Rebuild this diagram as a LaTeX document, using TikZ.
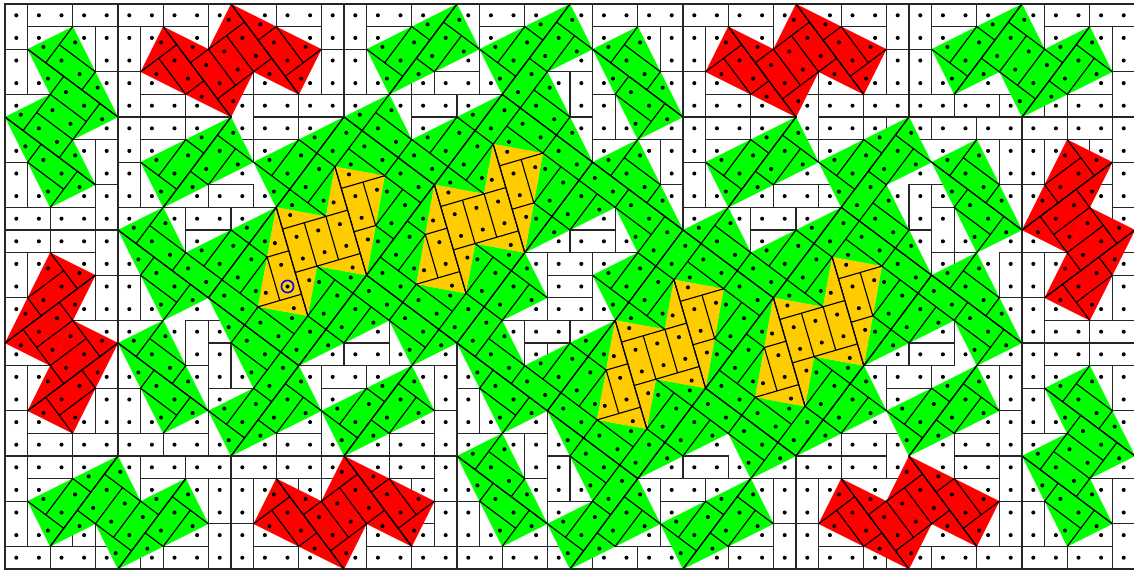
\documentclass[tikz,border=0pt]{standalone}
\usetikzlibrary{calc}
\definecolor{tilegreen}{RGB}{0,255,0}
\definecolor{tilered}{RGB}{255,0,0}
\definecolor{tileyellow}{RGB}{255,204,0}
\pgfdeclarelayer{tilefill}
\pgfdeclarelayer{tileline}
\pgfsetlayers{main,tilefill,tileline}
\tikzset{
  domline/.style={draw=black!85, line width=0.055cm},
  cutline/.style={draw=black, line width=0.05cm},
  spot/.style={fill=black}
}
\newcommand{\halftile}[4]{%
  \coordinate (a) at #2;
  \coordinate (b) at #3;
  \coordinate (c) at #4;
  \coordinate (f) at ($(a)!0.2!(c)$);
  \coordinate (g) at ($(a)!0.6!(c)$);
  \coordinate (m) at ($(b)!0.5!(f)$);
  \coordinate (n) at ($(b)!0.5!(c)$);
  \begin{pgfonlayer}{tilefill}
    \filldraw[fill=#1, draw=#1, line width=0.1pt] (a) -- (b) -- (c) -- cycle;
  \end{pgfonlayer}
  \begin{pgfonlayer}{tileline}
    \draw[cutline] (a) -- (c) (b) -- (f) (m) -- (n) -- (g);
    \fill[spot] ($(a)!0.5!(f)+0.25*(b)-0.25*(f)$) circle (0.09);
    \fill[spot] ($(m)!0.5!(b)+0.25*(n)-0.25*(m)$) circle (0.09);
    \fill[spot] ($(g)!0.5!(n)+0.25*(c)-0.25*(g)$) circle (0.09);
    \fill[spot] ($0.375*(m)+0.375*(f)+0.125*(n)+0.125*(g)$) circle (0.09);
    \fill[spot] ($0.125*(m)+0.125*(f)+0.375*(n)+0.375*(g)$) circle (0.09);
  \end{pgfonlayer}
}
\newcommand{\domtile}[5]{\halftile{#1}{#2}{#3}{#4}\halftile{#1}{#4}{#5}{#2}}
\newcommand{\talltile}[3]{\domtile{#1}{(#2,#3)}{(#2+2,#3-1)}{(#2+4,#3+3)}{(#2+2,#3+4)}}
\newcommand{\widetile}[3]{\domtile{#1}{(#2+1,#3+2)}{(#2,#3)}{(#2+4,#3-2)}{(#2+5,#3)}}
\begin{document}
\begin{tikzpicture}[x=1cm,y=-1cm]
  \useasboundingbox (-0.2212,-0.177) rectangle (49.956,25.044);
  % dominoes lying flat
  \foreach \i/\j in {1/0,3/0,5/0,7/0,10/0,12/0,16/0,18/0,21/0,23/0,26/0,28/0,30/0,32/0,35/0,37/0,41/0,43/0,46/0,48/0,
    1/1,7/1,10/1,12/1,16/1,21/1,23/1,26/1,32/1,35/1,37/1,41/1,46/1,
    7/2,24/2,
    2/3,6/3,8/3,11/3,19/3,31/3,36/3,
    0/4,6/4,8/4,11/4,13/4,15/4,18/4,20/4,31/4,33/4,36/4,38/4,40/4,42/4,44/4,47/4,
    3/5,6/5,8/5,11/5,18/5,28/5,31/5,33/5,36/5,39/5,41/5,43/5,45/5,47/5,
    11/6,36/6,
    2/8,7/8,9/8,32/8,34/8,36/8,41/8,
    0/9,2/9,5/9,8/9,10/9,30/9,33/9,35/9,
    0/10,2/10,8/10,23/10,25/10,33/10,45/10,
    2/11,24/11,26/11,
    24/12,
    24/13,46/13,
    3/14,5/14,9/14,23/14,25/14,40/14,46/14,48/14,
    0/15,13/15,15/15,18/15,38/15,40/15,43/15,46/15,48/15,
    14/16,16/16,39/16,46/16,
    9/17,11/17,14/17,39/17,
    1/18,7/18,12/18,17/18,
    1/19,3/19,5/19,7/19,10/19,12/19,15/19,17/19,20/19,37/19,42/19,45/19,
    1/20,3/20,6/20,8/20,10/20,12/20,15/20,17/20,28/20,30/20,33/20,35/20,37/20,42/20,
    1/21,6/21,13/21,29/21,31/21,
    24/22,
    7/23,11/23,22/23,27/23,32/23,
    0/24,2/24,4/24,7/24,11/24,13/24,16/24,18/24,20/24,22/24,24/24,26/24,28/24,30/24,32/24,36/24,39/24,41/24,43/24,45/24,47/24} {
    \draw[domline] (\i,\j) rectangle ++(2,1);
  }
  % dominoes standing up
  \foreach \i/\j in {0/0,9/0,14/0,15/0,20/0,25/0,34/0,39/0,40/0,45/0,
    3/1,4/1,5/1,6/1,28/1,29/1,30/1,31/1,48/1,49/1,
    0/2,1/2,13/2,14/2,15/2,16/2,18/2,21/2,39/2,40/2,41/2,
    4/3,5/3,24/3,25/3,29/3,30/3,49/3,
    10/4,17/4,26/4,27/4,35/4,
    0/5,5/5,25/5,30/5,49/5,
    3/6,4/6,28/6,29/6,44/6,45/6,46/6,48/6,
    0/7,1/7,5/7,6/7,30/7,31/7,49/7,
    4/8,29/8,40/8,45/8,46/8,
    7/9,27/9,32/9,41/9,42/9,49/9,
    4/10,5/10,40/10,
    0/11,1/11,23/11,41/11,44/11,45/11,46/11,
    4/12,5/12,6/12,26/12,49/12,
    0/13,44/13,45/13,
    8/14,17/14,22/14,
    4/15,5/15,9/15,10/15,23/15,45/15,
    0/16,1/16,13/16,19/16,43/16,44/16,49/16,
    3/17,4/17,5/17,20/17,45/17,46/17,
    0/18,9/18,14/18,19/18,24/18,44/18,49/18,
    23/19,22/19,39/19,
    0/20,5/20,14/20,19/20,20/20,24/20,25/20,44/20,45/20,
    9/21,10/21,11/21,12/21,18/21,23/21,28/21,34/21,35/21,48/21,49/21,
    0/22,1/22,3/22,19/22,20/22,44/22,45/22,46/22,
    9/23,10/23,34/23,35/23,6/23,15/23,38/23,49/23} {
    \draw[domline] (\i,\j) rectangle ++(1,2);
  }
  \foreach \i in {0,...,49} {
    \foreach \j in {0,...,24} {
      \fill[spot] (\i+0.5,\j+0.5) circle (0.09);
    }
  }
  % loose rotated tiles
  \foreach \x/\y in {1/2,0/5,45/20,46/17} {
    \talltile{tilegreen}{\x}{\y}
  }
  \foreach \x/\y in {6/7,41/2,44/3,39/18,1/22,4/23} {
    \widetile{tilegreen}{\x}{\y}
  }
  \foreach \x/\y in {6/3,9/2,31/3,34/2,11/23,14/22,36/23,39/22} {
    \domtile{tilered}{(\x+1,\y-2)}{(\x,\y)}{(\x+4,\y+2)}{(\x+5,\y)}
  }
  \foreach \x/\y in {47/6,48/9,2/11,3/14} {
    \domtile{tilered}{(\x+2,\y+1)}{(\x,\y)}{(\x-2,\y+4)}{(\x,\y+5)}
  }
  % the two big clusters
  \foreach \dx/\dy in {0/0,15/5} {
    \begin{scope}[shift={(\dx,\dy)}]
      \foreach \x/\y in {5/10,5/15,26/2,26/7} {
        \talltile{tilegreen}{\x}{\y}
      }
      \foreach \x/\y in {9/18,14/18,16/2,21/2} {
        \widetile{tilegreen}{\x}{\y}
      }
      \halftile{tilegreen}{(9,13)}{(8,11)}{(12,9)}
      \halftile{tilegreen}{(26,7)}{(27,9)}{(23,11)}
      \foreach \hx/\hy in {0/0,7/-1} {
        \begin{scope}[shift={(\hx,\hy)}]
          \halftile{tilegreen}{(12,9)}{(11,7)}{(15,5)}
          \halftile{tilegreen}{(15,5)}{(17,4)}{(19,8)}
          \halftile{tilegreen}{(16,12)}{(17,14)}{(13,16)}
          \halftile{tilegreen}{(13,16)}{(11,17)}{(9,13)}
          \halftile{tilegreen}{(9,13)}{(11.2,13.4)}{(12,9)}
          \halftile{tilegreen}{(12,9)}{(14.2,9.4)}{(15,5)}
          \halftile{tilegreen}{(15,5)}{(14.6,7.2)}{(19,8)}
          \halftile{tilegreen}{(19,8)}{(16.8,7.6)}{(16,12)}
          \halftile{tilegreen}{(16,12)}{(13.8,11.6)}{(13,16)}
          \halftile{tilegreen}{(13,16)}{(13.4,13.8)}{(9,13)}
          \domtile{tileyellow}{(12,9)}{(14.2,9.4)}{(13.4,13.8)}{(11.2,13.4)}
          \domtile{tileyellow}{(14.6,7.2)}{(16.8,7.6)}{(16,12)}{(13.8,11.6)}
        \end{scope}
      }
    \end{scope}
  }
  \begin{pgfonlayer}{tileline}
    \draw[blue, line width=0.07cm] (12.5,12.5) circle (0.27);
  \end{pgfonlayer}
\end{tikzpicture}
\end{document}
